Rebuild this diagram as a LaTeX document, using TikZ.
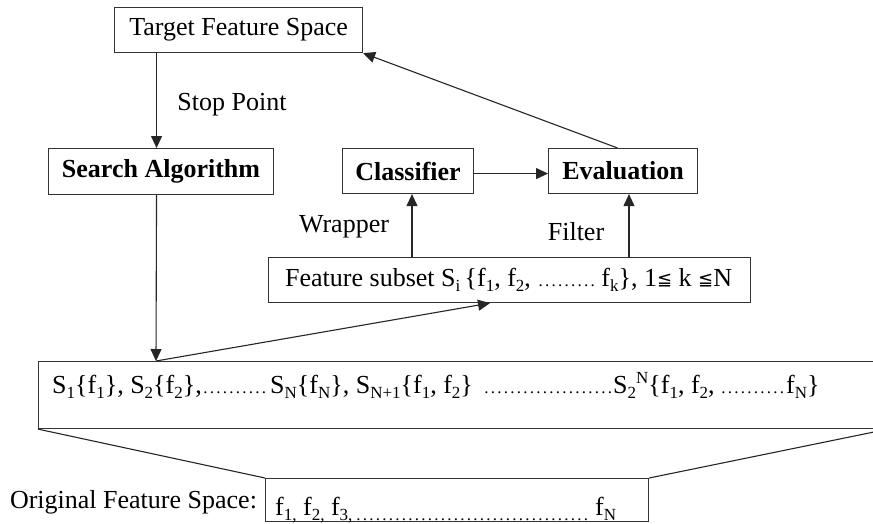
\documentclass[tikz,border=0pt]{standalone}
\usepackage{fontspec}
\setmainfont{Liberation Serif}
\newfontfamily\symfont{DejaVu Sans}
\usetikzlibrary{arrows.meta}

% small lowered / raised indices in the running text
\newcommand{\subsc}[1]{\raisebox{-5pt}{\fontsize{17}{17}\selectfont #1}}
\newcommand{\supsc}[1]{\raisebox{10pt}{\fontsize{17}{17}\selectfont #1}}
% a run of dots of a given width
\newcommand{\dotrun}[1]{\hbox to #1{\fontsize{17}{17}\selectfont\leaders\hbox to 6.5pt{\hss.\hss}\hfill}}
\newcommand{\lowdots}[1]{\raisebox{-5pt}{\dotrun{#1}}}
\newcommand{\leqsym}{\raisebox{1pt}{\symfont\fontsize{18}{18}\selectfont ≦}}
% fixed-width piece of text
\newcommand{\seg}[2]{\hbox to #1{#2\hss}}

\tikzset{
  box/.style={draw=black!80, line width=1.1pt, inner sep=0pt, anchor=north west,
    font=\fontsize{26}{30}\selectfont},
  lbl/.style={inner sep=0pt, font=\fontsize{26}{30}\selectfont},
  arr/.style={draw=black!85, line width=1.1pt, -{Triangle[length=12pt,width=11pt]}},
  ln/.style={draw=black!85, line width=1.1pt},
}

\begin{document}
\begin{tikzpicture}[x=1pt,y=-1pt]
\clip (0,0) rectangle (873,523);
\fill[white] (0,0) rectangle (873,523);

% boxes
\node[box, minimum width=248pt, minimum height=45pt] (tfs) at (114,7) {Target Feature Space};
\node[box, minimum width=225pt, minimum height=46pt] (search) at (48,148) {\bfseries Search Algorithm};
\node[box, minimum width=131pt, minimum height=45pt] (clf) at (342,148) {\bfseries Classifier};
\node[box, minimum width=149pt, minimum height=45pt] (eval) at (548,148) {\bfseries Evaluation};
\node[box, minimum width=482pt, minimum height=45pt] (subset) at (268,257) {};
\node[box, minimum width=849pt, minimum height=67pt] (space) at (38,361) {};
\node[box, minimum width=383pt, minimum height=43pt] (orig) at (265,478) {};

% box contents
\node[lbl, anchor=base west] (subsettxt) at (285,286)
  {Feature subset S\subsc{i}\,\{f\subsc{1}, f\subsc{2}, \dotrun{64pt}f\subsc{k}\}, 1\leqsym\ k\ \leqsym N};
\node[lbl, anchor=base west] (spacetxt) at (52,393)
  {\seg{150pt}{S\subsc{1}\{f\subsc{1}\}, S\subsc{2}\{f\subsc{2}\},}%
   \dotrun{68pt}%
   \seg{213pt}{S\subsc{N}\{f\subsc{N}\}, S\subsc{N+1}\{f\subsc{1}, f\subsc{2}\}}%
   \dotrun{130pt}%
   \seg{107pt}{S\subsc{2}\supsc{N}\{f\subsc{1}, f\subsc{2}, }%
   \dotrun{66pt}%
   f\subsc{N}\}};
\node[lbl, anchor=base west] (origtxt) at (275,515)
  {\seg{80pt}{f\subsc{1,} f\subsc{2,} f\subsc{3,}}\lowdots{240pt}f\subsc{N}};
\node[lbl, anchor=base] (origlbl) at (133.5,508) {Original Feature Space:};

% labels
\node[lbl] (stop) at (232,105) {Stop Point};
\node[lbl] (wrap) at (344,227) {Wrapper};
\node[lbl] (filt) at (576,232) {Filter};

% helper points
\coordinate (spacetop) at ([xshift=118pt]space.north west);
\coordinate (subsetin) at ([xshift=222pt]subset.south west);

% connectors
\draw[arr] ([xshift=-4.5pt]search.north |- tfs.south) -- ([xshift=-4.5pt]search.north);
\draw[arr] ([xshift=-4.5pt]search.south) -- (spacetop);
\draw[arr] (spacetop) -- (subsetin);
\draw[arr] ([xshift=144pt]subset.north west) -- ([xshift=144pt]subset.north west |- clf.south);
\draw[arr] ([xshift=361pt]subset.north west) -- ([xshift=361pt]subset.north west |- eval.south);
\draw[arr] ([yshift=-2.5pt]clf.east) -- ([yshift=-2.5pt]clf.east -| eval.west);
\draw[arr] ([xshift=-5.5pt]eval.north) -- (tfs.south east);

% funnel from the subset list to the original space
\draw[ln] (space.south west) -- (orig.north west);
\draw[ln] (space.south east) -- (orig.north east);
\end{tikzpicture}
\end{document}
